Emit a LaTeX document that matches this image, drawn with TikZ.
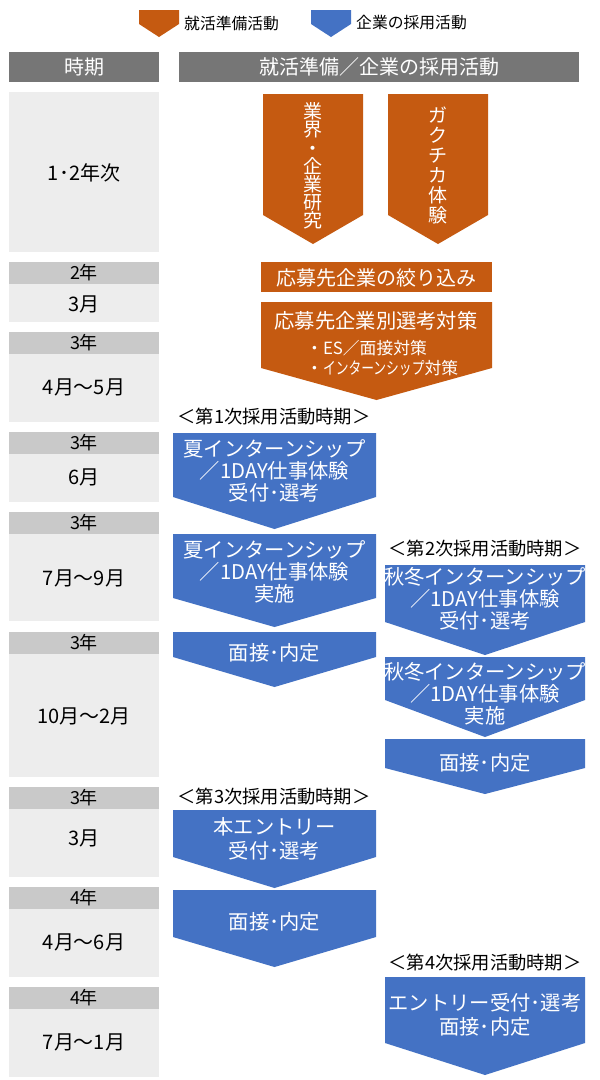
\documentclass[tikz,border=0pt]{standalone}
\usepackage{fontspec}
\setmainfont{Noto Sans CJK JP}
\definecolor{orng}{HTML}{C55A11}
\definecolor{blu}{HTML}{4472C4}
\definecolor{hdrg}{HTML}{767676}
\definecolor{cellg}{HTML}{EDEDED}
\definecolor{labg}{HTML}{C9C9C9}
\newcommand\chevshape[6]{\fill[#1] (#2,#4) -- (#3,#4) -- (#3,#5) -- ({(#2+#3)/2},#6) -- (#2,#5) -- cycle;}
\tikzset{
  wtxt/.style={text=white, align=center, inner sep=0pt, font=\fontsize{20.3}{22}\selectfont},
  wtxttwo/.style={text=white, align=center, inner sep=0pt, font=\fontsize{20.3}{24}\selectfont},
  htxt/.style={text=white, inner sep=0pt, font=\fontsize{20}{22}\selectfont},
  ktxt/.style={text=black, inner sep=0pt, font=\fontsize{20}{22}\selectfont},
  ytxt/.style={text=black, inner sep=0pt, font=\fontsize{18}{20}\selectfont},
  brtxt/.style={text=black, inner sep=0pt, font=\fontsize{18.3}{20}\selectfont},
  legtxt/.style={text=black, inner sep=0pt, anchor=west, font=\fontsize{15.8}{18}\selectfont},
}
\begin{document}
\begin{tikzpicture}[x=1pt,y=-1pt]
\useasboundingbox (0,0) rectangle (600,1080);
\fill[white] (0,0) rectangle (600,1080);
% legend
\chevshape{orng}{139}{179}{10}{24}{37}
\node[legtxt] (leg1) at (184,23) {就活準備活動};
\chevshape{blu}{311}{351}{10}{24}{37}
\node[legtxt] (leg2) at (356,23) {企業の採用活動};
% headers
\fill[hdrg] (9,52) rectangle (159,82);
\node[htxt] (h1) at (84,67) {時期};
\fill[hdrg] (179,52) rectangle (579,82);
\node[htxt] (h2) at (379,67) {就活準備／企業の採用活動};
% left column
\fill[cellg] (9,92) rectangle (159,252);
\node[ktxt] (r1) at (84,173) {1･2年次};
\fill[labg] (9,262) rectangle (159,284); \fill[cellg] (9,284) rectangle (159,322);
\node[ytxt] (r2y) at (84,273) {2年}; \node[ktxt] (r2m) at (84,304) {3月};
\fill[labg] (9,332) rectangle (159,354); \fill[cellg] (9,354) rectangle (159,422);
\node[ytxt] (r3y) at (84,343) {3年}; \node[ktxt] (r3m) at (84,387) {4月〜5月};
\fill[labg] (9,432) rectangle (159,454); \fill[cellg] (9,454) rectangle (159,502);
\node[ytxt] (r4y) at (84,443) {3年}; \node[ktxt] (r4m) at (84,477) {6月};
\fill[labg] (9,512) rectangle (159,534); \fill[cellg] (9,534) rectangle (159,621);
\node[ytxt] (r5y) at (84,523) {3年}; \node[ktxt] (r5m) at (84,578) {7月〜9月};
\fill[labg] (9,632) rectangle (159,654); \fill[cellg] (9,654) rectangle (159,777);
\node[ytxt] (r6y) at (84,643) {3年}; \node[ktxt] (r6m) at (84,716) {10月〜2月};
\fill[labg] (9,787) rectangle (159,809); \fill[cellg] (9,809) rectangle (159,877);
\node[ytxt] (r7y) at (84,798) {3年}; \node[ktxt] (r7m) at (84,838) {3月};
\fill[labg] (9,887) rectangle (159,909); \fill[cellg] (9,909) rectangle (159,977);
\node[ytxt] (r8y) at (84,898) {4年}; \node[ktxt] (r8m) at (84,942) {4月〜6月};
\fill[labg] (9,987) rectangle (159,1009); \fill[cellg] (9,1009) rectangle (159,1077);
\node[ytxt] (r9y) at (84,998) {4年}; \node[ktxt] (r9m) at (84,1042) {7月〜1月};
% orange
\chevshape{orng}{263}{363}{94}{215}{244}
\node[text=white, align=center, inner sep=0pt, font=\fontsize{19}{18.2}\selectfont] (a1) at (313,166) {業\\界\\・\\企\\業\\研\\究};
\chevshape{orng}{388}{488}{94}{215}{244}
\node[text=white, align=center, inner sep=0pt, font=\fontsize{19}{20}\selectfont] (a2) at (438,165) {ガ\\ク\\チ\\カ\\体\\験};
\fill[orng] (261,262) rectangle (492,292);
\node[htxt] (a3) at (376,278) {応募先企業の絞り込み};
\chevshape{orng}{261}{492}{302}{368}{400}
\node[htxt, font=\fontsize{20.3}{22}\selectfont] (a4) at (376,321) {応募先企業別選考対策};
\node[text=white, align=left, anchor=west, inner sep=0pt, font=\fontsize{16.8}{20}\selectfont] (a5) at (306,358) {・ES／面接対策\\・\scalebox{0.76}[1]{インターンシップ}対策};
% blue column 1
\node[brtxt] (p1) at (274,417) {＜第1次採用活動時期＞};
\chevshape{blu}{173}{376}{433}{497}{529}
\node[wtxt] (b1) at (274.5,471) {夏インターンシップ\\／1DAY仕事体験\\受付･選考};
\chevshape{blu}{173}{376}{534}{598}{627}
\node[wtxt] (b2) at (274.5,572) {夏インターンシップ\\／1DAY仕事体験\\実施};
\chevshape{blu}{173}{376}{632}{657}{687}
\node[wtxt] (b3) at (274.5,653) {面接･内定};
\node[brtxt] (p3) at (274,797) {＜第3次採用活動時期＞};
\chevshape{blu}{173}{376}{810}{857}{888}
\node[wtxttwo] (b4) at (274.5,839) {本エントリー\\受付･選考};
\chevshape{blu}{173}{376}{890}{937}{967}
\node[wtxt] (b5) at (274.5,922) {面接･内定};
% blue column 2
\node[brtxt] (p2) at (485,549) {＜第2次採用活動時期＞};
\chevshape{blu}{385}{585}{565}{622}{655}
\node[wtxt] (c1) at (485,599) {秋冬インターンシップ\\／1DAY仕事体験\\受付･選考};
\chevshape{blu}{385}{585}{657}{700}{737}
\node[wtxt] (c2) at (485,694) {秋冬インターンシップ\\／1DAY仕事体験\\実施};
\chevshape{blu}{385}{585}{739}{768}{794}
\node[wtxt] (c3) at (485,763) {面接･内定};
\node[brtxt] (p4) at (485,963) {＜第4次採用活動時期＞};
\chevshape{blu}{385}{585}{977}{1043}{1075}
\node[wtxttwo] (c4) at (485,1015) {エントリー受付･選考\\面接･内定};
\end{tikzpicture}
\end{document}
